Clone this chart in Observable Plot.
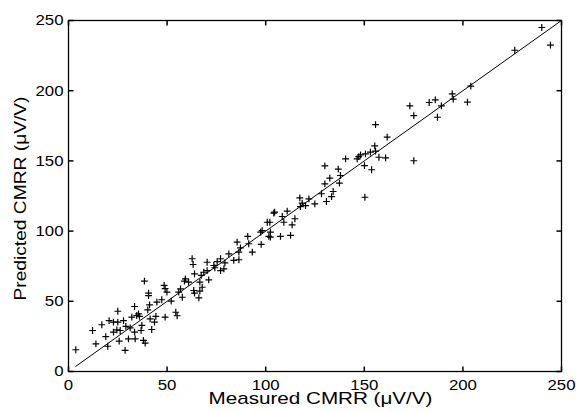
<!DOCTYPE html>
<html><head><meta charset="utf-8">
<script src="https://cdn.jsdelivr.net/npm/d3@7"></script>
<script src="https://cdn.jsdelivr.net/npm/@observablehq/plot@0.6"></script>
<style>body{margin:0;background:#fff}</style>
</head><body><div id="chart"></div>
<script>
const measured = [
240,244.4,226.3,204,194.6,195.1,202.3,186,182.9,189.1,173.1,175.1,187.1,161.6,160.8,175.1,
155.7,155.3,155.7,153.1,150.6,148.1,146.4,147.2,157.4,150.1,153.7,140.5,150.3,130,136.8,137.9,132.5,130,137.4,134.2,128.3,133.4,130.8,124.9,121.9,117.3,118.5,120.2,117.6,110.9,104.5,108.4,100.8,102.1,114.8,109.2,113.4,102.4,101.6,107.5,112.6,97.4,
104.1,98.2,102.4,90.9,85.5,91.4,97.7,87.2,93.2,86.4,81.3,83.8,86.4,77.1,75.4,79.3,70.3,73.7,74.2,77.1,78.8,62.7,63.2,70.3,68.6,67.3,59.3,58.8,71.1,66.6,67.8,56.8,55.9,63.5,66.6,66.1,57.7,
63.9,60.9,63.9,38.5,40.6,40.6,48.5,49,49.9,47.3,44.8,52.1,41.1,40.2,33.5,35.5,34.6,36,32.1,41.4,44.3,43.6,49,54.4,55.1,42.2,37.2,36.8,33.5,25,20.6,22.8,25,27.9,16.9,29.1,24.5,22.8,26.2,31.3,12.2,18.9,25.7,30.4,38,38.9,33.8,13.9,19.9,28.7,3.7
];
const predicted = [
245,232.4,228.8,203.2,197.8,194,191.8,193.5,191.6,189.2,189.2,182.3,181.1,166.9,152.2,150.1,
175.9,160.7,156.9,156.2,155,154.3,151.5,153.1,152.6,146.7,143.7,151.5,124.1,146.5,144.1,139.6,137.7,133.7,134.1,128.2,126.6,124.6,121.1,119.4,123,123.7,119.9,118.2,117.5,114.2,113.5,110.4,106.3,106.3,108.8,106.3,104.5,99.2,96.2,96.2,96.9,99.2,
112.8,100.4,95.7,96.2,92.1,91,90.5,88.1,85,85,83.8,79.1,79.6,80.3,78.3,77.4,77.8,75.5,73.9,71.9,73.1,80.3,76.2,71.9,70.7,68.4,66,64.3,65.3,63.6,60,58.9,56.5,57.7,57.2,52.5,52.9,
69.6,63.6,55.8,64.3,55.8,54,61.3,59,56.5,51.1,49.4,50.1,47.5,43.9,46.3,41.1,39.9,39.2,38.7,37.5,39.2,35.1,38.7,42.2,39.7,29.9,32.8,29.2,28,42.9,36.3,35.1,35.1,36.3,33.3,32.1,29.7,28,29.2,31.1,29.2,24.9,21.6,23.3,22.1,20.2,23.3,19.7,18,15,15.5
];
const xTicks = [0, 50, 100, 150, 200, 250];
const yTicks = [0, 50, 100, 150, 200, 250];
const identityLine = [3.7, 250];
const xLabel = "Measured CMRR (μV/V)";
const yLabel = "Predicted CMRR (μV/V)";

const points = measured.map((m, i) => ({m, p: predicted[i]}));
const plusSym = {draw(c){ c.moveTo(-3.4,0); c.lineTo(3.4,0); c.moveTo(0,-3.4); c.lineTo(0,3.4); }};
const tickSym = (dx, dy) => ({draw(c){ c.moveTo(0,0); c.lineTo(dx,dy); }});

const plot = Plot.plot({
  width: 576, height: 411,
  marginLeft: 68, marginRight: 15, marginTop: 20, marginBottom: 40,
  style: {fontFamily: "'Liberation Sans', Arial, sans-serif", fontSize: "15px", background: "#fff", color: "#000"},
  x: {domain: [0, 250]},
  y: {domain: [0, 250]},
  marks: [
    Plot.line(identityLine, {x: d => d, y: d => d, stroke: "#000", strokeWidth: 1}),
    Plot.dot(points, {x: "m", y: "p", symbol: plusSym, stroke: "#000", strokeWidth: 1.2, fill: "none"}),
    Plot.dot(xTicks, {x: d => d, y: () => 0, symbol: tickSym(0, -5), stroke: "#000", fill: "none"}),
    Plot.dot(xTicks, {x: d => d, y: () => 250, symbol: tickSym(0, 5), stroke: "#000", fill: "none"}),
    Plot.dot(yTicks, {y: d => d, x: () => 0, symbol: tickSym(5, 0), stroke: "#000", fill: "none"}),
    Plot.dot(yTicks, {y: d => d, x: () => 250, symbol: tickSym(-5, 0), stroke: "#000", fill: "none"}),
    Plot.frame({stroke: "#000", strokeWidth: 1.3}),
    Plot.axisX({ticks: xTicks, tickSize: 0, tickPadding: 8, label: null, fontSize: 15}),
    Plot.axisY({ticks: yTicks, tickSize: 0, tickPadding: 5, label: null, fontSize: 15}),
    Plot.text([xLabel], {text: d => d, frameAnchor: "bottom", dy: 32, dx: 5.5, lineAnchor: "bottom", fontSize: 17}),
    Plot.text([yLabel], {text: d => d, frameAnchor: "left", dx: -55, dy: 104.5, rotate: -90, textAnchor: "start", lineAnchor: "top", fontSize: 17})
  ]
});
document.getElementById("chart").append(plot);
const svg = plot.tagName.toLowerCase() === "svg" ? plot : plot.querySelector("svg");
svg.querySelectorAll('g[aria-label="x-axis tick label"] text, g[aria-label="y-axis tick label"] text').forEach(t => {
  const w = t.getComputedTextLength();
  t.setAttribute("textLength", w * 1.12);
  t.setAttribute("lengthAdjust", "spacingAndGlyphs");
});
svg.querySelectorAll("text").forEach(t => {
  if (t.textContent === xLabel) { t.setAttribute("textLength", 224); t.setAttribute("lengthAdjust", "spacingAndGlyphs"); }
  if (t.textContent === yLabel) { t.setAttribute("textLength", 204); t.setAttribute("lengthAdjust", "spacingAndGlyphs"); }
});
</script>
</body></html>
